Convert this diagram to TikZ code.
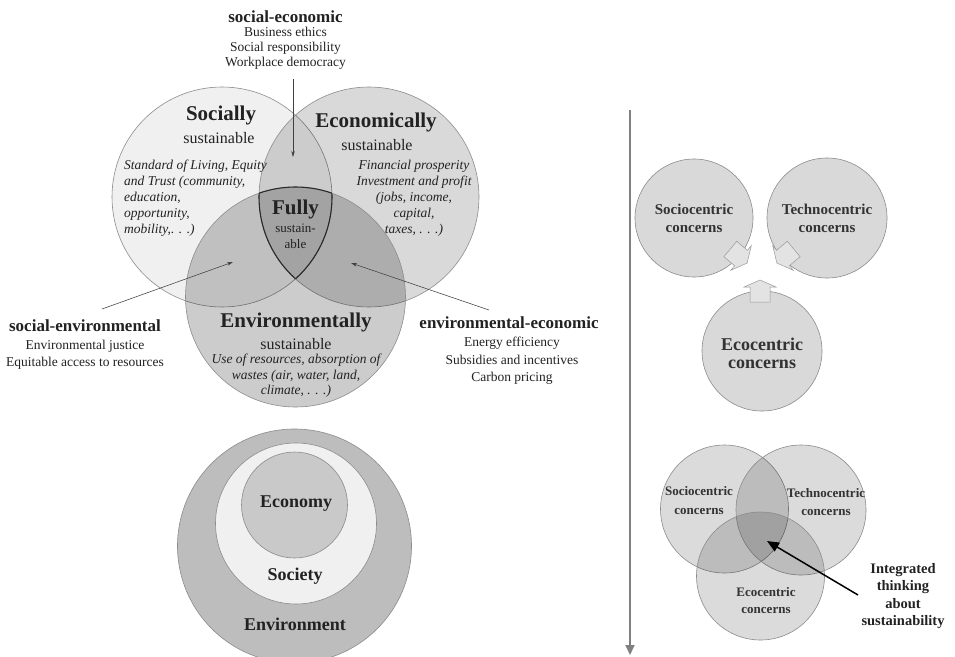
\documentclass[tikz,border=0pt]{standalone}
\usepackage{fontspec}
\setmainfont{Liberation Serif}
\usetikzlibrary{arrows.meta}
\newcommand{\fsz}[2]{\fontsize{#1}{#2}\selectfont}
\definecolor{txt}{HTML}{222222}
\definecolor{edge}{HTML}{8C8C8C}
\definecolor{fullc}{HTML}{2A2A2A}
\begin{document}
\begin{tikzpicture}[x=1pt,y=-1pt,
  vcirc/.style={circle, draw=edge, line width=0.6pt, inner sep=0pt, minimum size=#1},
  lbl/.style={text=txt, inner sep=0pt, align=center},
  lbll/.style={text=txt, inner sep=0pt, align=left},
  thinarrow/.style={draw=black!75, line width=0.55pt, -{Stealth[length=6pt,width=3.5pt]}},
  fullline/.style={draw=fullc, line width=1.1pt},
  blockarr/.style={fill=black!11, draw=black!40, line width=0.5pt, line join=miter},
  bigarrow/.style={draw=black, line width=1.5pt, -{Triangle[length=12pt,width=10pt]}},
  timearrow/.style={draw=black!50, line width=2pt, -{Triangle[length=10pt,width=9pt]}}]
\useasboundingbox (0,0) rectangle (955,656);
\fill[white] (0,0) rectangle (955,656);

% ---------- Top-left Venn ----------
\node[vcirc=220pt, fill=black, fill opacity=0.06] (soc) at (222,197) {};
\node[vcirc=220pt, fill=black, fill opacity=0.15] (eco) at (369,197) {};
\node[vcirc=220pt, fill=black, fill opacity=0.20] (env) at (295.5,297) {};

\begin{scope}
  \clip (soc.center) circle[radius=110pt];
  \clip (eco.center) circle[radius=110pt];
  \draw[fullline] (env.center) circle[radius=110pt];
\end{scope}
\begin{scope}
  \clip (soc.center) circle[radius=110pt];
  \clip (env.center) circle[radius=110pt];
  \draw[fullline] (eco.center) circle[radius=110pt];
\end{scope}
\begin{scope}
  \clip (eco.center) circle[radius=110pt];
  \clip (env.center) circle[radius=110pt];
  \draw[fullline] (soc.center) circle[radius=110pt];
\end{scope}

\node[lbl, font=\fsz{17}{19}\bfseries] (setitle) at (285.5,17) {social-economic};
\node[lbl, font=\fsz{13.5}{15}] (selines) at (285.5,48) {Business ethics\\Social responsibility\\Workplace democracy};
\coordinate (seA) at (293,79);
\coordinate (seB) at (293,157);
\draw[thinarrow] (seA) -- (seB);

\node[lbl, font=\fsz{21}{23}\bfseries] (soctitle) at (221,115) {Socially};
\node[lbl, font=\fsz{16}{18}] (socsub) at (219,138) {sustainable};
\node[lbll, font=\fsz{13.5}{16}\itshape, anchor=west] (soctext) at (124,198)
  {Standard of Living, Equity\\and Trust (community,\\education,\\opportunity,\\mobility,. . .)};

\node[lbl, font=\fsz{21}{23}\bfseries] (ecotitle) at (376,122) {Economically};
\node[lbl, font=\fsz{16}{18}] (ecosub) at (377,145) {sustainable};
\node[lbl, font=\fsz{13.5}{16}\itshape] (ecotext) at (414,198)
  {Financial prosperity\\Investment and profit\\(jobs, income,\\capital,\\taxes, . . .)};

\node[lbl, font=\fsz{21}{23}\bfseries] (fully) at (295.5,209) {Fully};
\node[lbl, font=\fsz{13}{15.5}] (fullysub) at (295.5,236.5) {sustain-\\able};

\node[lbl, font=\fsz{21}{23}\bfseries] (envtitle) at (296,322) {Environmentally};
\node[lbl, font=\fsz{16}{18}] (envsub) at (296,344) {sustainable};
\node[lbl, font=\fsz{13.5}{15.5}\itshape] (envtext) at (296,376)
  {Use of resources, absorption of\\wastes (air, water, land,\\climate, . . .)};

\node[lbl, font=\fsz{17}{19}\bfseries] (sentitle) at (85,326) {social-environmental};
\node[lbl, font=\fsz{13.5}{17}] (senlines) at (85,354.5) {Environmental justice\\Equitable access to resources};
\coordinate (senA) at (102,309);
\coordinate (senB) at (233,262);
\draw[thinarrow] (senA) -- (senB);

\node[lbl, font=\fsz{17}{19}\bfseries] (eectitle) at (509,323) {environmental-economic};
\node[lbl, font=\fsz{13.5}{17.5}] (eeclines) at (512,361) {Energy efficiency\\Subsidies and incentives\\Carbon pricing};
\coordinate (eecA) at (489,310);
\coordinate (eecB) at (351,263);
\draw[thinarrow] (eecA) -- (eecB);

% ---------- Nested circles ----------
\node[vcirc=234pt, fill=black!26] (environment) at (294.5,546) {};
\node[vcirc=161pt, fill=black!6] (society) at (296,523.5) {};
\node[vcirc=106pt, fill=black!21] (economy) at (294.5,505) {};
\node[lbl, font=\fsz{18}{20}\bfseries] (economyt) at (296,504) {Economy};
\node[lbl, font=\fsz{18}{20}\bfseries] (societyt) at (295,576) {Society};
\node[lbl, font=\fsz{18}{20}\bfseries] (environmentt) at (295,624) {Environment};

% ---------- Right side ----------
\coordinate (tA) at (630,110);
\coordinate (tB) at (630,655);
\draw[timearrow] (tA) -- (tB);

\node[vcirc=118pt, fill=black!15] (socio1) at (694,218) {};
\node[vcirc=120pt, fill=black!15] (techno1) at (827,218) {};
\node[vcirc=120pt, fill=black!15] (ecoc1) at (762,351) {};
\node[lbl, font=\fsz{15}{18}\bfseries, text=black!80] (socio1t) at (694,218) {Sociocentric\\concerns};
\node[lbl, font=\fsz{15}{18}\bfseries, text=black!80] (techno1t) at (827,218) {Technocentric\\concerns};
\node[lbl, font=\fsz{18}{18}\bfseries, text=black!80] (ecoc1t) at (762,353) {Ecocentric\\concerns};

\draw[blockarr] (736.7,241.3) -- (747.4,250.3) -- (751.3,245.7) -- (747.1,263.1) -- (730.7,270.3) -- (734.6,265.7) -- (723.9,256.7) -- cycle;
\draw[blockarr] (787.3,241.3) -- (776.6,250.3) -- (772.7,245.7) -- (776.9,263.1) -- (793.3,270.3) -- (789.4,265.7) -- (800.1,256.7) -- cycle;
\draw[blockarr] (750,302) -- (750,287) -- (744,287) -- (760,280) -- (776,287) -- (770,287) -- (770,302) -- cycle;

\node[vcirc=128pt, fill=black, fill opacity=0.14] (socio2) at (724.5,509) {};
\node[vcirc=130pt, fill=black, fill opacity=0.14] (techno2) at (801,510) {};
\node[vcirc=128pt, fill=black, fill opacity=0.14] (ecoc2) at (760.5,576) {};
\node[lbl, font=\fsz{13}{19}\bfseries, text=black!80] (socio2t) at (699,501) {Sociocentric\\concerns};
\node[lbl, font=\fsz{13}{18.5}\bfseries, text=black!80] (techno2t) at (826,502) {Technocentric\\concerns};
\node[lbl, font=\fsz{13}{17.5}\bfseries, text=black!80] (ecoc2t) at (766,600.5) {Ecocentric\\concerns};

\node[lbl, font=\fsz{14.5}{17.5}\bfseries] (integ) at (903,596) {Integrated\\thinking\\about\\sustainability};
\coordinate (intA) at (858,595);
\coordinate (intB) at (767,541);
\draw[bigarrow] (intA) -- (intB);
\end{tikzpicture}
\end{document}
